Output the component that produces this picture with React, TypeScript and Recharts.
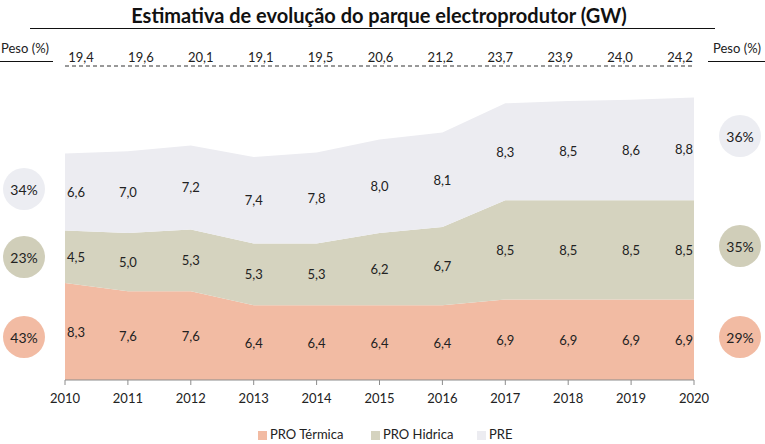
import React from 'react';
import { ComposedChart, Area, Line, XAxis, YAxis, LabelList } from 'recharts';

const years = ['2010', '2011', '2012', '2013', '2014', '2015', '2016', '2017', '2018', '2019', '2020'];
const termica = [8.3, 7.6, 7.6, 6.4, 6.4, 6.4, 6.4, 6.9, 6.9, 6.9, 6.9];
const hidrica = [4.5, 5.0, 5.3, 5.3, 5.3, 6.2, 6.7, 8.5, 8.5, 8.5, 8.5];
const pre = [6.6, 7.0, 7.2, 7.4, 7.8, 8.0, 8.1, 8.3, 8.5, 8.6, 8.8];
const totals = [19.4, 19.6, 20.1, 19.1, 19.5, 20.6, 21.2, 23.7, 23.9, 24.0, 24.2];

const seriesNames = ['PRO Térmica', 'PRO Hidrica', 'PRE'];
const sharesStart = ['43%', '23%', '34%'];
const sharesEnd = ['29%', '35%', '36%'];

const title = 'Estimativa de evolução do parque electroprodutor (GW)';
const pesoLabel = 'Peso (%)';

const COL_T = '#F2BBA3';
const COL_H = '#D5D3BF';
const COL_P = '#ECECF1';
const CIRC = ['#F2BBA3', '#D0CEB9', '#ECEDF2'];
const FONT = 'Lato, "Open Sans", sans-serif';

const data = years.map((y, i) => ({
  year: y,
  termica: termica[i],
  hidrica: hidrica[i],
  pre: pre[i],
  tMid: termica[i] / 2,
  hMid: termica[i] + hidrica[i] / 2,
  pMid: termica[i] + hidrica[i] + pre[i] / 2,
}));

const totalByYear: Record<string, number> = {};
years.forEach((y, i) => { totalByYear[y] = totals[i]; });

const fmt = (v: number) => v.toFixed(1).replace('.', ',');

const renderLabel = (props: any) => {
  const { x, y, value, index } = props;
  const last = years.length - 1;
  const dx = index === 0 ? 11 : index === last ? -10 : 0;
  return (
    <text x={x + dx} y={y} textAnchor="middle" dominantBaseline="central" fontSize={13} fill="#222" fontFamily={FONT}>
      {fmt(value)}
    </text>
  );
};

export default function App() {
  const leftY = [337, 257, 189];
  const rightY = [337, 246, 136];
  const legendX = [258, 371, 477];
  return (
    <div style={{ position: 'absolute', left: 0, top: 0, width: 765, height: 444, background: '#fff', fontFamily: FONT }}>
      <ComposedChart width={765} height={444} data={data} margin={{ top: 36, right: 71, bottom: 34, left: 65 }}>
        <YAxis hide width={0} domain={[0, 26.9]} allowDataOverflow type="number" />
        <XAxis
          dataKey="year"
          scale="point"
          height={30}
          axisLine={{ stroke: '#8c8c8c' }}
          tickLine={{ stroke: '#8c8c8c' }}
          tickSize={5}
          tickMargin={9}
          interval={0}
          tick={{ fill: '#222', fontSize: 13, fontFamily: FONT }}
        />
        <XAxis
          xAxisId="top"
          dataKey="year"
          orientation="top"
          scale="point"
          height={30}
          padding={{ left: 16, right: 14 }}
          axisLine={{ stroke: '#333', strokeDasharray: '4 3' }}
          tickLine={false}
          tickSize={0}
          tickMargin={4}
          interval={0}
          tickFormatter={(v: string) => fmt(totalByYear[v])}
          tick={{ fill: '#222', fontSize: 13, fontFamily: FONT }}
        />
        <Area type="linear" dataKey="termica" stackId="a" fill={COL_T} stroke="none" fillOpacity={1} isAnimationActive={false} />
        <Area type="linear" dataKey="hidrica" stackId="a" fill={COL_H} stroke="none" fillOpacity={1} isAnimationActive={false} />
        <Area type="linear" dataKey="pre" stackId="a" fill={COL_P} stroke="none" fillOpacity={1} isAnimationActive={false} />
        <Line dataKey="tMid" stroke="none" dot={false} activeDot={false} legendType="none" isAnimationActive={false}>
          <LabelList dataKey="termica" content={renderLabel} />
        </Line>
        <Line dataKey="hMid" stroke="none" dot={false} activeDot={false} legendType="none" isAnimationActive={false}>
          <LabelList dataKey="hidrica" content={renderLabel} />
        </Line>
        <Line dataKey="pMid" stroke="none" dot={false} activeDot={false} legendType="none" isAnimationActive={false}>
          <LabelList dataKey="pre" content={renderLabel} />
        </Line>
      </ComposedChart>
      <svg width={765} height={444} style={{ position: 'absolute', left: 0, top: 0, pointerEvents: 'none' }}>
        <text x={379} y={23} textAnchor="middle" fontSize={20} fontWeight="bold" fill="#111" fontFamily={FONT}>{title}</text>
        <line x1={30} x2={715} y1={28.5} y2={28.5} stroke="#111" strokeWidth={1} />
        <text x={1} y={53} fontSize={13} fill="#222" fontFamily={FONT}>{pesoLabel}</text>
        <line x1={0} x2={53} y1={61.5} y2={61.5} stroke="#111" strokeWidth={1} />
        <text x={713} y={53} fontSize={13} fill="#222" fontFamily={FONT}>{pesoLabel}</text>
        <line x1={708} x2={765} y1={61.5} y2={61.5} stroke="#111" strokeWidth={1} />
        {sharesStart.map((s, i) => (
          <g key={'l' + i}>
            <circle cx={24} cy={leftY[i]} r={21} fill={CIRC[i]} />
            <text x={24} y={leftY[i]} textAnchor="middle" dominantBaseline="central" fontSize={14} fill="#222" fontFamily={FONT}>{s}</text>
          </g>
        ))}
        {sharesEnd.map((s, i) => (
          <g key={'r' + i}>
            <circle cx={740} cy={rightY[i]} r={21} fill={CIRC[i]} />
            <text x={740} y={rightY[i]} textAnchor="middle" dominantBaseline="central" fontSize={14} fill="#222" fontFamily={FONT}>{s}</text>
          </g>
        ))}
        {seriesNames.map((n, i) => (
          <g key={'g' + i}>
            <rect x={legendX[i]} y={431} width={9} height={9} fill={[COL_T, COL_H, COL_P][i]} />
            <text x={legendX[i] + 12} y={439} fontSize={13} fill="#222" fontFamily={FONT}>{n}</text>
          </g>
        ))}
      </svg>
    </div>
  );
}
